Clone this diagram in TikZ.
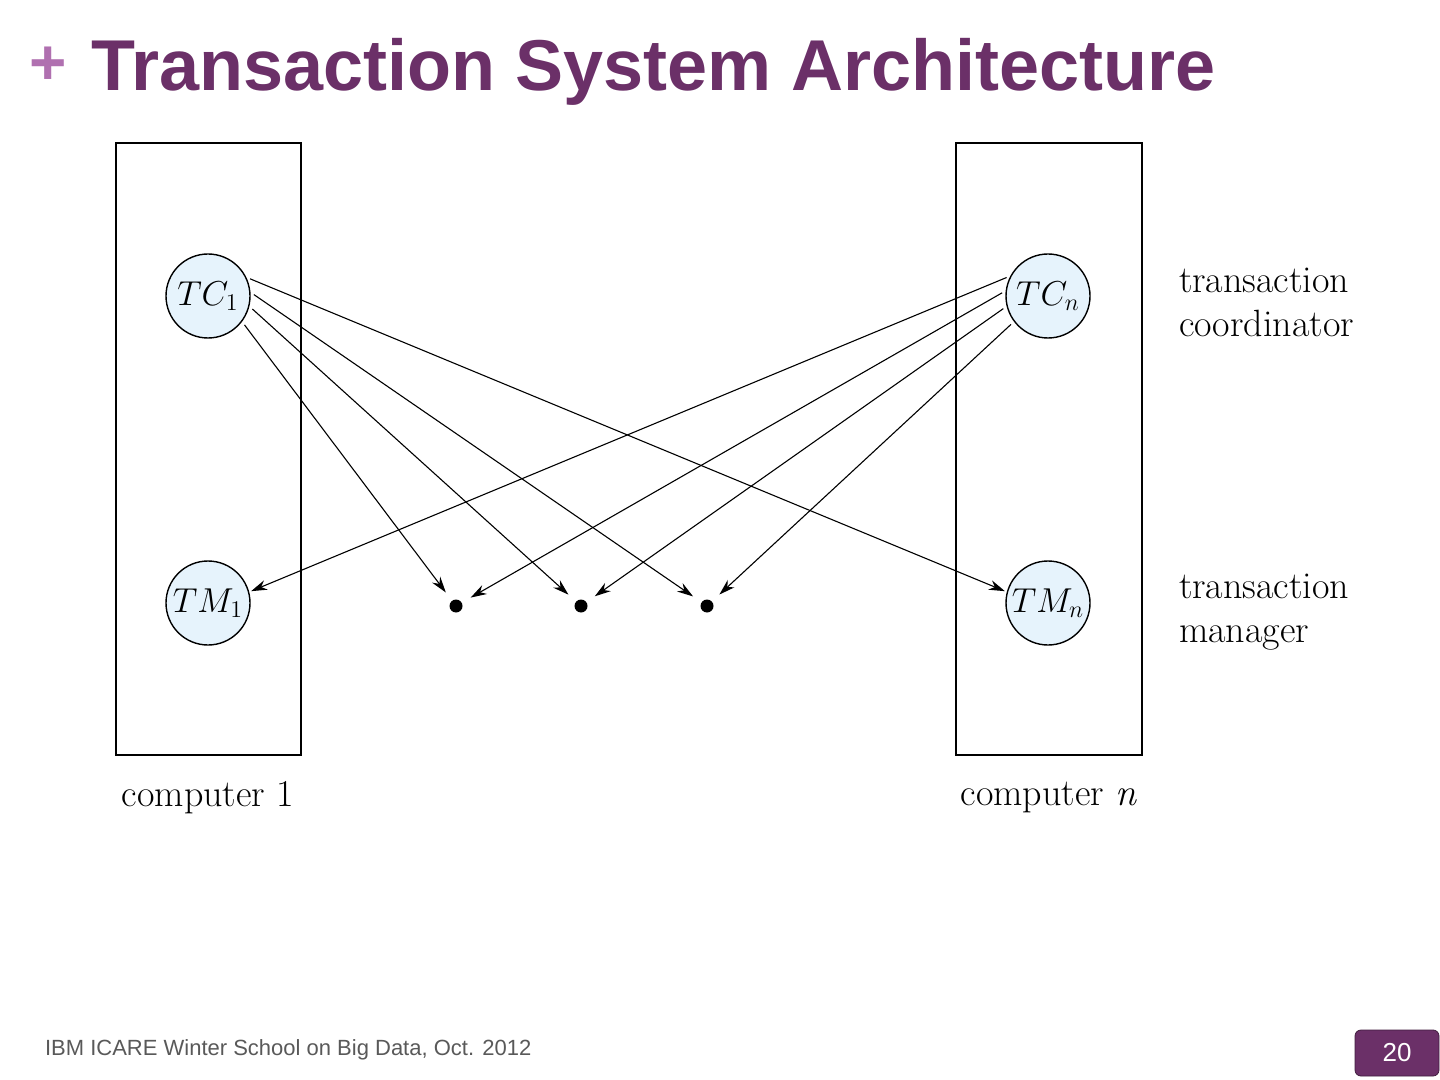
\documentclass[tikz,border=0pt]{standalone}
\usepackage{fontspec}
\newfontfamily\sans{Liberation Sans}
\usetikzlibrary{arrows.meta}
\definecolor{plum}{HTML}{6B3068}
\definecolor{lplum}{HTML}{B070B0}
\definecolor{cfill}{HTML}{E6F3FC}
\begin{document}
\begin{tikzpicture}[x=0.5pt,y=-0.5pt,
  circ/.style={circle,draw,line width=0.7pt,fill=cfill,minimum size=42pt,inner sep=0pt,font=\fontsize{17}{17}\selectfont},
  box/.style={draw,line width=0.6pt},
  dotn/.style={circle,fill=black,inner sep=0pt,minimum size=6.5pt},
  arr/.style={-{Stealth[length=8pt,width=5pt]},line width=0.55pt,shorten <=2pt},
  lbl/.style={font=\fontsize{19}{22}\selectfont,align=left,anchor=west}]
\useasboundingbox (0,0) rectangle (1440,1080);
\node[anchor=west,text=lplum,font=\sans\bfseries\fontsize{32}{32}\selectfont] (plus) at (22,66) {+};
\node[anchor=west,text=plum,font=\sans\bfseries\fontsize{36}{36}\selectfont] (title) at (84,72) {Transaction System Architecture};
\draw[box] (116,143) rectangle (301,755);
\draw[box] (956,143) rectangle (1142,755);
\node[circ] (tc1) at (208,296) {$TC_1$};
\node[circ] (tm1) at (208,603) {$TM_1$};
\node[circ] (tcn) at (1048,296) {$TC_n$};
\node[circ] (tmn) at (1048,603) {$TM_n$};
\node[dotn] (d1) at (456,606) {};
\node[dotn] (d2) at (581,606) {};
\node[dotn] (d3) at (707,606) {};
\draw[arr,shorten >=1pt] (tc1.26) -- (tmn.165);
\draw[arr,shorten >=5pt] (tc1.5) -- (d3);
\draw[arr,shorten >=5pt] (tc1.-14) -- (d2);
\draw[arr,shorten >=5pt] (tc1.-37) -- (d1);
\draw[arr,shorten >=1pt] (tcn.152) -- (tm1.15);
\draw[arr,shorten >=5pt] (tcn.173) -- (d1);
\draw[arr,shorten >=5pt] (tcn.-166) -- (d2);
\draw[arr,shorten >=5pt] (tcn.-143) -- (d3);
\node[lbl] (l1) at (1172,302) {transaction\\coordinator};
\node[lbl] (l2) at (1172,612) {transaction\\manager};
\node[font=\fontsize{19}{19}\selectfont] (c1) at (208,798) {computer 1};
\node[font=\fontsize{19}{19}\selectfont] (cn) at (1049,798) {computer \textit{n}};
\node[anchor=west,text=black!65,font=\sans\fontsize{11}{11}\selectfont] (foot) at (38,1050) {IBM ICARE Winter School on Big Data, Oct. 2012};
\node[draw=plum!60!black,fill=plum,rounded corners=3pt,minimum width=42pt,minimum height=23pt,text=white,font=\sans\fontsize{13}{13}\selectfont] (pg) at (1397,1053) {20};
\end{tikzpicture}
\end{document}
